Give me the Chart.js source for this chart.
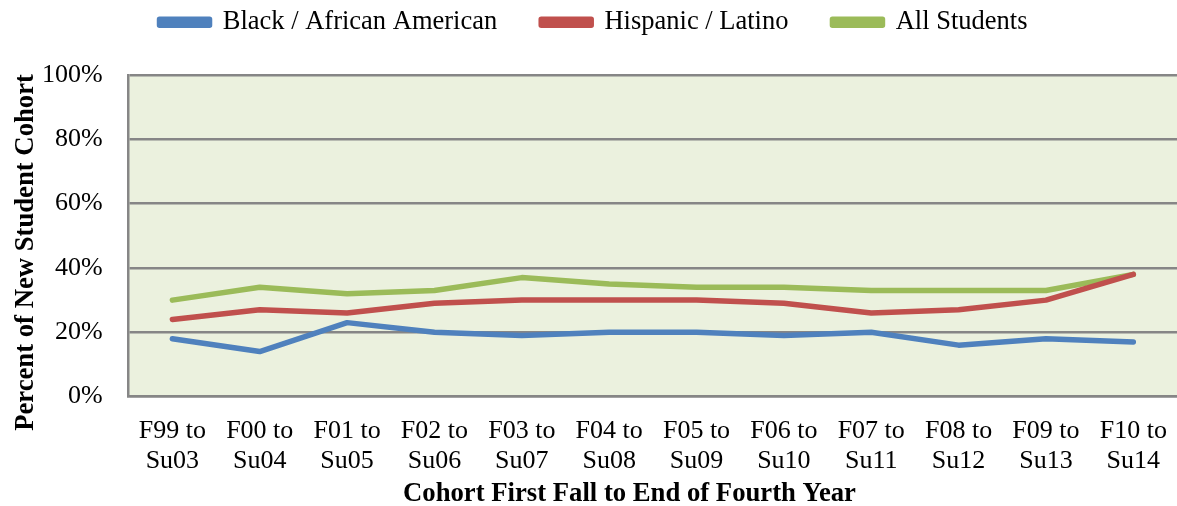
<!DOCTYPE html>
<html>
<head>
<meta charset="utf-8">
<script src="https://cdn.jsdelivr.net/npm/chart.js@4/dist/chart.umd.min.js"></script>
<style>
  html, body { margin: 0; padding: 0; background: #fff; }
  #wrap { width: 1177px; height: 506px; }
</style>
</head>
<body>
<div id="wrap"><canvas id="c" width="1177" height="506"></canvas></div>
<script>
// Cohorts: first fall term to end of fourth year
const cohorts = [
  ['F99 to', 'Su03'], ['F00 to', 'Su04'], ['F01 to', 'Su05'], ['F02 to', 'Su06'],
  ['F03 to', 'Su07'], ['F04 to', 'Su08'], ['F05 to', 'Su09'], ['F06 to', 'Su10'],
  ['F07 to', 'Su11'], ['F08 to', 'Su12'], ['F09 to', 'Su13'], ['F10 to', 'Su14']
];

// Percent of new student cohort
const blackAfricanAmerican = [18, 14, 23, 20, 19, 20, 20, 19, 20, 16, 18, 17];
const hispanicLatino       = [24, 27, 26, 29, 30, 30, 30, 29, 26, 27, 30, 38];
const allStudents          = [30, 34, 32, 33, 37, 35, 34, 34, 33, 33, 33, 38];

const seriesNames = ['Black / African American', 'Hispanic / Latino', 'All Students'];
const yTickLabels = ['0%', '20%', '40%', '60%', '80%', '100%'];

const SERIF = '"Liberation Serif", "Times New Roman", serif';
const LEGEND_HEIGHT = 110;
const NB = '\u00a0';

// Light green fill behind the plotting area
const plotFill = {
  id: 'plotFill',
  beforeDraw(chart) {
    const { ctx, chartArea: a } = chart;
    ctx.save();
    ctx.fillStyle = '#EBF1DE';
    ctx.fillRect(a.left, a.top, a.right - a.left, a.bottom - a.top);
    ctx.restore();
  }
};

// Keep the legend band a fixed height, independent of its item spacing
const legendHeight = {
  id: 'legendHeight',
  beforeLayout(chart) {
    const lg = chart.legend;
    if (lg && !lg._fixedFit) {
      const fit = lg.fit.bind(lg);
      lg.fit = function () { fit(); this.height = LEGEND_HEIGHT; };
      lg._fixedFit = true;
    }
  }
};

function lineSet(label, data, color) {
  return {
    label, data,
    borderColor: color,
    backgroundColor: color,
    borderWidth: 5.5,
    pointRadius: 0,
    tension: 0,
    borderCapStyle: 'round',
    borderJoinStyle: 'round',
    fill: false
  };
}

new Chart(document.getElementById('c'), {
  type: 'line',
  data: {
    labels: cohorts,
    datasets: [
      lineSet(seriesNames[0], blackAfricanAmerican, '#4F81BD'),
      lineSet(seriesNames[1], hispanicLatino, '#C0504D'),
      lineSet(seriesNames[2], allStudents, '#9BBB59')
    ]
  },
  options: {
    responsive: false,
    animation: false,
    layout: { padding: { top: -35, right: 0, left: 10, bottom: -4 } },
    plugins: {
      tooltip: { enabled: false },
      legend: {
        position: 'top',
        labels: {
          font: { family: SERIF, size: 26.5 },
          color: '#000',
          boxWidth: 50,
          boxHeight: 6,
          padding: 44
        }
      }
    },
    scales: {
      x: {
        offset: true,
        grid: { display: false, drawTicks: false },
        border: { display: true, color: '#868686', width: 2.5 },
        afterFit(scale) { scale.paddingLeft = 0; scale.paddingRight = 0; },
        ticks: {
          font: { family: SERIF, size: 26, lineHeight: 1.18 },
          color: '#000',
          maxRotation: 0,
          autoSkip: false,
          padding: 19
        },
        title: {
          display: true,
          text: 'Cohort First Fall to End of Fourth Year' + NB.repeat(7),
          font: { family: SERIF, size: 26.7, weight: 'bold' },
          color: '#000',
          padding: { top: -18, bottom: 0 }
        }
      },
      y: {
        min: 0,
        max: 100,
        grid: {
          drawTicks: false,
          color: c => (c.tick.value % 20 === 0 ? '#868686' : '#BFBFBF'),
          lineWidth: c => (c.tick.value % 20 === 0 ? 2.5 : 1.5)
        },
        border: { display: true, color: '#868686', width: 2.5 },
        ticks: {
          stepSize: 10,
          font: { family: SERIF, size: 26 },
          color: '#000',
          padding: 26,
          callback: v => (v % 20 === 0 ? yTickLabels[v / 20] : '')
        },
        title: {
          display: true,
          text: 'Percent of New Student Cohort' + NB.repeat(5),
          font: { family: SERIF, size: 26.7, weight: 'bold' },
          color: '#000',
          padding: { top: 0, bottom: -26 }
        }
      }
    }
  },
  plugins: [plotFill, legendHeight]
});
</script>
</body>
</html>
